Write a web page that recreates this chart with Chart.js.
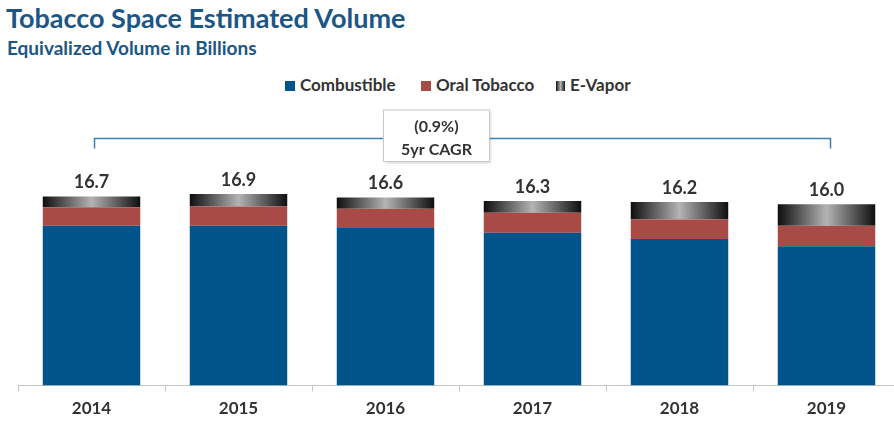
<!DOCTYPE html>
<html>
<head>
<meta charset="utf-8">
<script src="https://cdn.jsdelivr.net/npm/chart.js@4/dist/chart.umd.min.js"></script>
<style>
  html, body { margin: 0; padding: 0; background: #fff; overflow: hidden; width: 894px; height: 424px; }
  #titulo { position: absolute; left: 6px; top: 1px; font: 700 27px Lato, sans-serif; color: #1b5687; white-space: nowrap; }
  #subtitulo { position: absolute; left: 7px; top: 36px; font: 700 19px Lato, sans-serif; color: #1b5687; white-space: nowrap; }
  .leyenda { position: absolute; top: 76px; font: 700 17px Lato, sans-serif; color: #333; white-space: nowrap; line-height: 18px; }
  .cuadro { display: inline-block; width: 10px; height: 10px; margin-right: 5px; vertical-align: 0px; }
  #lienzo { position: absolute; left: 0; top: 0; width: 902px; height: 433px; }
</style>
</head>
<body>
<div id="titulo">Tobacco Space Estimated Volume</div>
<div id="subtitulo">Equivalized Volume in Billions</div>
<div class="leyenda" style="left:285px"><span class="cuadro" style="background:#00548a"></span>Combustible</div>
<div class="leyenda" style="left:421px"><span class="cuadro" style="background:#a84b47"></span>Oral Tobacco</div>
<div class="leyenda" style="left:556px"><span class="cuadro" style="width:9px;background:linear-gradient(90deg,#111,#b5b5b5,#111)"></span>E-Vapor</div>
<div id="lienzo"><canvas id="grafico"></canvas></div>
<script>
// datos (miles de millones)
const anios = ['2014', '2015', '2016', '2017', '2018', '2019'];
const combustible = [14.1, 14.1, 13.9, 13.5, 12.95, 12.3];
const oralTobacco = [1.65, 1.7, 1.7, 1.75, 1.7, 1.8];
const eVapor = [0.95, 1.1, 1.0, 1.05, 1.55, 1.9];
const totales = [16.7, 16.9, 16.6, 16.3, 16.2, 16.0];
const textoCagr = ['(0.9%)', '5yr CAGR'];

const ANCHO_BARRA = 0.663;

// degradado horizontal negro-gris-negro para E-Vapor
function rellenoVapor(c) {
    const chart = c.chart;
    const ejeX = chart.scales.x;
    if (!ejeX || !chart.chartArea || c.dataIndex === undefined) return '#777';
    const cx = ejeX.getPixelForValue(c.dataIndex);
    const w = chart.chartArea.width / anios.length * ANCHO_BARRA;
    const g = chart.ctx.createLinearGradient(cx - w / 2, 0, cx + w / 2, 0);
    g.addColorStop(0, '#0e0e0e');
    g.addColorStop(0.5, '#b4b4b4');
    g.addColorStop(1, '#0e0e0e');
    return g;
}

// etiquetas de total, llave y caja de CAGR
const extras = {
    id: 'extras',
    afterDatasetsDraw(chart) {
        const ctx = chart.ctx;
        const x = chart.scales.x, y = chart.scales.y;
        ctx.save();
        ctx.fillStyle = '#333';
        ctx.font = 'bold 18px Lato, sans-serif';
        ctx.textAlign = 'center';
        ctx.textBaseline = 'middle';
        totales.forEach((t, i) => {
            ctx.fillText(t.toFixed(1), x.getPixelForValue(i), y.getPixelForValue(t) - 14);
        });

        // llave
        const x0 = x.getPixelForValue(0) + 3;
        const x1 = x.getPixelForValue(anios.length - 1) + 4;
        const yl = chart.chartArea.top - 20.5;
        ctx.strokeStyle = '#3f7fb2';
        ctx.lineWidth = 1.5;
        ctx.beginPath();
        ctx.moveTo(x0, yl + 10);
        ctx.lineTo(x0, yl);
        ctx.lineTo(x1, yl);
        ctx.lineTo(x1, yl + 10);
        ctx.stroke();

        // caja
        const bx = 383.5, by = 110, bw = 106, bh = 51.5;
        ctx.shadowColor = 'rgba(0,0,0,0.18)';
        ctx.shadowBlur = 3;
        ctx.shadowOffsetX = 1;
        ctx.shadowOffsetY = 1;
        ctx.fillStyle = '#fff';
        ctx.fillRect(bx, by, bw, bh);
        ctx.shadowColor = 'transparent';
        ctx.strokeStyle = '#c9c9c9';
        ctx.lineWidth = 1;
        ctx.strokeRect(bx, by, bw, bh);
        ctx.fillStyle = '#333';
        ctx.font = 'bold 16px Lato, sans-serif';
        ctx.fillText(textoCagr[0], bx + bw / 2, 127);
        ctx.fillText(textoCagr[1], bx + bw / 2, 149.5);
        ctx.restore();
    }
};

document.addEventListener('DOMContentLoaded', () => {
    new Chart(document.getElementById('grafico'), {
        type: 'bar',
        data: {
            labels: anios,
            datasets: [
                { label: 'Combustible', data: combustible, backgroundColor: '#00548a' },
                { label: 'Oral Tobacco', data: oralTobacco, backgroundColor: '#a84b47' },
                { label: 'E-Vapor', data: eVapor, backgroundColor: rellenoVapor }
            ]
        },
        options: {
            responsive: true,
            maintainAspectRatio: false,
            animation: false,
            layout: { padding: { left: 18, right: 2, top: 159, bottom: 7 } },
            datasets: { bar: { categoryPercentage: 1, barPercentage: ANCHO_BARRA, borderWidth: 0 } },
            plugins: { legend: { display: false }, tooltip: { enabled: false } },
            scales: {
                x: {
                    stacked: true,
                    grid: { display: true, drawOnChartArea: false, offset: true, tickLength: 6, color: '#c6c6c6' },
                    border: { color: '#c6c6c6' },
                    ticks: { color: '#333', padding: 7, font: { family: 'Lato', weight: 'bold', size: 17 } }
                },
                y: { stacked: true, display: false, min: 0, max: 20 }
            }
        },
        plugins: [extras]
    });
});
</script>
</body>
</html>
